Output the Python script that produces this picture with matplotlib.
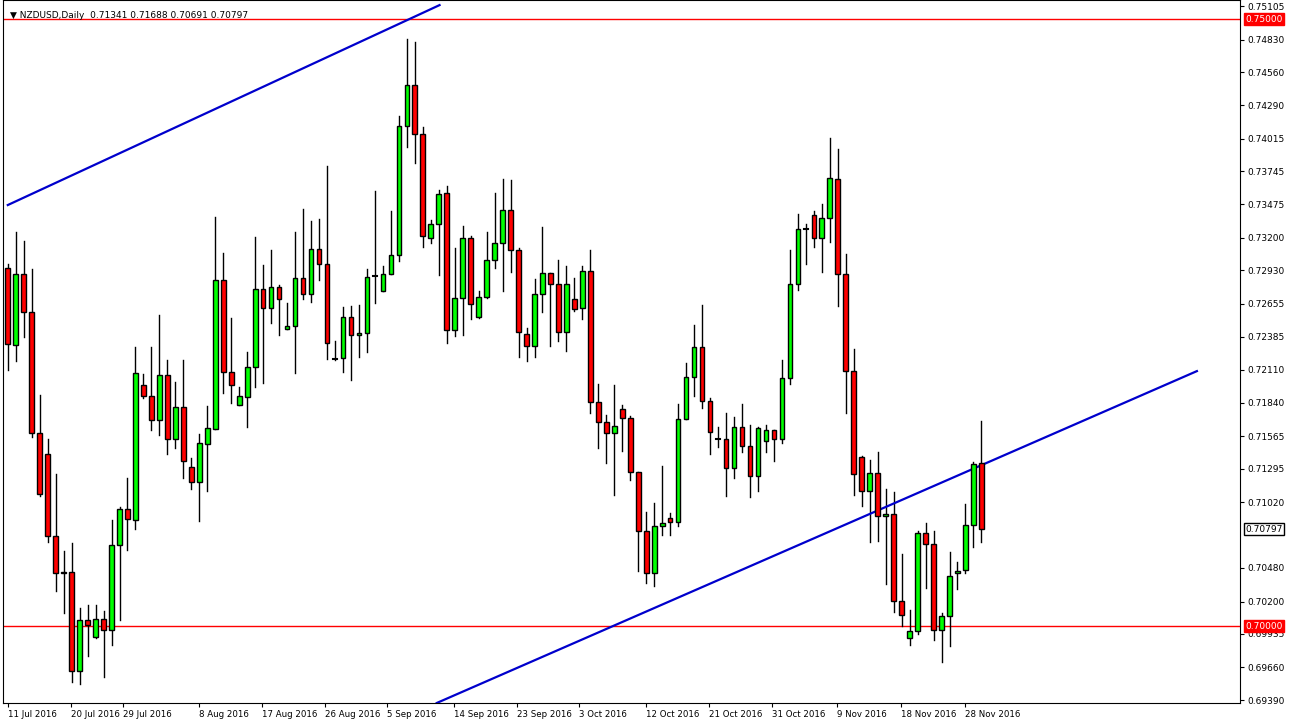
import matplotlib.pyplot as plt
from matplotlib.patches import Rectangle

# daily NZDUSD candles
opens = [0.72949, 0.72315, 0.72900, 0.72587, 0.71590, 0.71417, 0.70741, 0.70445, 0.70445, 0.69630,
         0.70050, 0.69910, 0.70058, 0.69967, 0.70667, 0.70964, 0.70873, 0.71985, 0.71895, 0.71697,
         0.72068, 0.71540, 0.71804, 0.71310, 0.71186, 0.71499, 0.71623, 0.72850, 0.72092, 0.71821,
         0.71886, 0.72134, 0.72776, 0.72620, 0.72793, 0.72447, 0.72471, 0.72867, 0.72735, 0.73106,
         0.72982, 0.72199, 0.72208, 0.72545, 0.72397, 0.72414, 0.72883, 0.72760, 0.72900, 0.73056,
         0.74119, 0.74456, 0.74053, 0.73196, 0.73311, 0.73567, 0.72438, 0.72702, 0.73196, 0.72545,
         0.72710, 0.73015, 0.73155, 0.73427, 0.73097, 0.72405, 0.72307, 0.72735, 0.72908, 0.72817,
         0.72422, 0.72694, 0.72620, 0.72924, 0.71845, 0.71681, 0.71590, 0.71788, 0.71713, 0.71269,
         0.70783, 0.70437, 0.70824, 0.70890, 0.70857, 0.71705, 0.72051, 0.72298, 0.71854, 0.71540,
         0.71540, 0.71302, 0.71639, 0.71483, 0.71236, 0.71524, 0.71615, 0.71540, 0.72043, 0.72817,
         0.73270, 0.73386, 0.73196, 0.73361, 0.73682, 0.72900, 0.72101, 0.71392, 0.71112, 0.71260,
         0.70906, 0.70923, 0.70206, 0.69901, 0.69959, 0.70766, 0.70676, 0.69967, 0.70082, 0.70437,
         0.70461, 0.70832, 0.71341]
highs = [0.72982, 0.73246, 0.73171, 0.72941, 0.71903, 0.71540, 0.71252, 0.70618, 0.70684, 0.70148,
         0.70173, 0.70173, 0.70124, 0.70873, 0.70980, 0.71219, 0.72298, 0.72076, 0.72298, 0.72562,
         0.72191, 0.72010, 0.72191, 0.71384, 0.71582, 0.71812, 0.73369, 0.73073, 0.72537, 0.71969,
         0.72257, 0.73204, 0.72974, 0.73097, 0.72809, 0.72661, 0.73246, 0.73435, 0.73336, 0.73353,
         0.73789, 0.72348, 0.72628, 0.72636, 0.72644, 0.72941, 0.73583, 0.72966, 0.73419, 0.74201,
         0.74835, 0.74811, 0.74110, 0.73344, 0.73591, 0.73624, 0.73114, 0.73295, 0.73213, 0.72760,
         0.73246, 0.73567, 0.73682, 0.73674, 0.73114, 0.72455, 0.72858, 0.73287, 0.72908, 0.73015,
         0.72966, 0.72867, 0.72966, 0.73097, 0.71993, 0.71738, 0.71985, 0.71821, 0.71730, 0.71269,
         0.70939, 0.71013, 0.71318, 0.70931, 0.71829, 0.72167, 0.72480, 0.72644, 0.71878, 0.71639,
         0.71755, 0.71722, 0.71829, 0.71656, 0.71639, 0.71656, 0.71615, 0.72191, 0.73097, 0.73394,
         0.73311, 0.73419, 0.73476, 0.74020, 0.73929, 0.73064, 0.72282, 0.71400, 0.71368, 0.71433,
         0.71129, 0.71104, 0.70593, 0.70132, 0.70783, 0.70849, 0.70783, 0.70107, 0.70610, 0.70527,
         0.71005, 0.71351, 0.71688]
lows = [0.72109, 0.72183, 0.72381, 0.71557, 0.71071, 0.70692, 0.70288, 0.70107, 0.69539, 0.69522,
        0.69753, 0.69901, 0.69580, 0.69844, 0.70050, 0.70626, 0.70799, 0.71878, 0.71615, 0.71573,
        0.71417, 0.71466, 0.71219, 0.71129, 0.70865, 0.71112, 0.71623, 0.71919, 0.71837, 0.71821,
        0.71639, 0.71969, 0.72002, 0.72496, 0.72397, 0.72447, 0.72084, 0.72694, 0.72669, 0.72850,
        0.72199, 0.72191, 0.72092, 0.72026, 0.72216, 0.72257, 0.72661, 0.72760, 0.72900, 0.73007,
        0.73946, 0.73814, 0.73122, 0.73155, 0.72891, 0.72331, 0.72389, 0.72397, 0.72529, 0.72537,
        0.72702, 0.72949, 0.72760, 0.72916, 0.72216, 0.72183, 0.72216, 0.72587, 0.72307, 0.72348,
        0.72265, 0.72595, 0.72529, 0.71755, 0.71466, 0.71343, 0.71079, 0.71442, 0.71203, 0.70453,
        0.70354, 0.70330, 0.70750, 0.70750, 0.70824, 0.71705, 0.71895, 0.71796, 0.71417, 0.71475,
        0.71071, 0.71219, 0.71433, 0.71063, 0.71112, 0.71433, 0.71359, 0.71508, 0.71993, 0.72768,
        0.72982, 0.73122, 0.72916, 0.73163, 0.72636, 0.71755, 0.71079, 0.70989, 0.70692, 0.70700,
        0.70346, 0.70116, 0.70000, 0.69844, 0.69934, 0.70313, 0.69885, 0.69704, 0.69835, 0.70305,
        0.70437, 0.70651, 0.70691]
closes = [0.72323, 0.72900, 0.72587, 0.71590, 0.71087, 0.70741, 0.70437, 0.70437, 0.69630, 0.70050,
          0.70008, 0.70058, 0.69967, 0.70667, 0.70964, 0.70882, 0.72084, 0.71895, 0.71697, 0.72068,
          0.71540, 0.71804, 0.71359, 0.71186, 0.71508, 0.71631, 0.72850, 0.72092, 0.71985, 0.71895,
          0.72134, 0.72776, 0.72620, 0.72793, 0.72694, 0.72471, 0.72867, 0.72735, 0.73106, 0.72982,
          0.72331, 0.72199, 0.72545, 0.72397, 0.72414, 0.72875, 0.72883, 0.72900, 0.73056, 0.74119,
          0.74456, 0.74053, 0.73213, 0.73311, 0.73559, 0.72438, 0.72702, 0.73196, 0.72653, 0.72710,
          0.73015, 0.73155, 0.73427, 0.73097, 0.72422, 0.72307, 0.72735, 0.72908, 0.72817, 0.72422,
          0.72817, 0.72611, 0.72924, 0.71845, 0.71681, 0.71590, 0.71648, 0.71713, 0.71269, 0.70783,
          0.70437, 0.70824, 0.70849, 0.70857, 0.71705, 0.72051, 0.72298, 0.71854, 0.71598, 0.71540,
          0.71302, 0.71639, 0.71483, 0.71236, 0.71631, 0.71615, 0.71540, 0.72043, 0.72817, 0.73270,
          0.73270, 0.73196, 0.73361, 0.73690, 0.72900, 0.72101, 0.71252, 0.71112, 0.71260, 0.70906,
          0.70923, 0.70206, 0.70091, 0.69959, 0.70766, 0.70676, 0.69967, 0.70082, 0.70412, 0.70453,
          0.70832, 0.71334, 0.70797]

date_pos = [0, 7.9, 14.4, 24, 31.9, 39.75, 47.5, 55.9, 63.75, 71.6, 80, 87.9, 95.75, 103.9, 111.9, 119.9]
date_labels = ["11 Jul 2016", "20 Jul 2016", "29 Jul 2016", "8 Aug 2016", "17 Aug 2016", "26 Aug 2016",
               "5 Sep 2016", "14 Sep 2016", "23 Sep 2016", "3 Oct 2016", "12 Oct 2016", "21 Oct 2016",
               "31 Oct 2016", "9 Nov 2016", "18 Nov 2016", "28 Nov 2016"]
price_ticks = [0.75105, 0.74830, 0.74560, 0.74290, 0.74015, 0.73745, 0.73475, 0.73200, 0.72930,
               0.72655, 0.72385, 0.72110, 0.71840, 0.71565, 0.71295, 0.71020, 0.70480, 0.70200,
               0.69935, 0.69660, 0.69390]
levels = [0.75, 0.70]
# trend lines: (index, price) end points
upper_line = [(0, 0.73468), (54.1, 0.75115)]
lower_line = [(53.75, 0.69366), (149, 0.72100)]

fig = plt.figure(figsize=(12.92, 7.26), dpi=100)
ax = fig.add_axes([3 / 1292, 23 / 726, 1237 / 1292, 703 / 726])
ax.set_xlim(-0.6, 154.4)
ax.set_ylim(0.69366, 0.75157)

for lv in levels:
    ax.axhline(lv, color="red", lw=1, zorder=1)

for (x0, y0), (x1, y1) in [upper_line, lower_line]:
    ax.plot([x0, x1], [y0, y1], color="#0000cc", lw=1.6, zorder=3)

w = 0.58
for i, (o, h, l, c) in enumerate(zip(opens, highs, lows, closes)):
    ax.plot([i, i], [l, h], color="black", lw=1, zorder=2)
    if abs(c - o) < 0.00003:
        ax.plot([i - w / 2, i + w / 2], [o, o], color="black", lw=1.5, zorder=4)
        continue
    col = "#00ff00" if c > o else "#ff0000"
    ax.add_patch(Rectangle((i - w / 2, min(o, c)), w, abs(c - o), facecolor=col,
                           edgecolor="black", lw=1, zorder=4))

ax.yaxis.tick_right()
ax.set_yticks(price_ticks)
ax.set_yticklabels([f"{p:.5f}" for p in price_ticks], fontsize=6.5)
ax.set_xticks(date_pos)
ax.set_xticklabels(date_labels, fontsize=6.2, ha="left")
ax.tick_params(axis="both", length=3, pad=2)

for lv in levels:
    ax.annotate(f"{lv:.5f}", xy=(1, lv), xycoords=("axes fraction", "data"), xytext=(4, 0),
                textcoords="offset points", va="center", ha="left", fontsize=6.5, color="white",
                bbox=dict(boxstyle="square,pad=0.15", fc="red", ec="red"))
ax.annotate(f"{closes[-1]:.5f}", xy=(1, closes[-1]), xycoords=("axes fraction", "data"), xytext=(4, 0),
            textcoords="offset points", va="center", ha="left", fontsize=6.5, color="black",
            bbox=dict(boxstyle="square,pad=0.15", fc="white", ec="black"))

ax.text(0.006, 0.985, "\u25bc NZDUSD,Daily  %.5f %.5f %.5f %.5f" % (opens[-1], highs[-1], lows[-1], closes[-1]),
        transform=ax.transAxes, fontsize=6.5, va="top", ha="left")

fig.savefig("out.png", dpi=100, facecolor="white")
